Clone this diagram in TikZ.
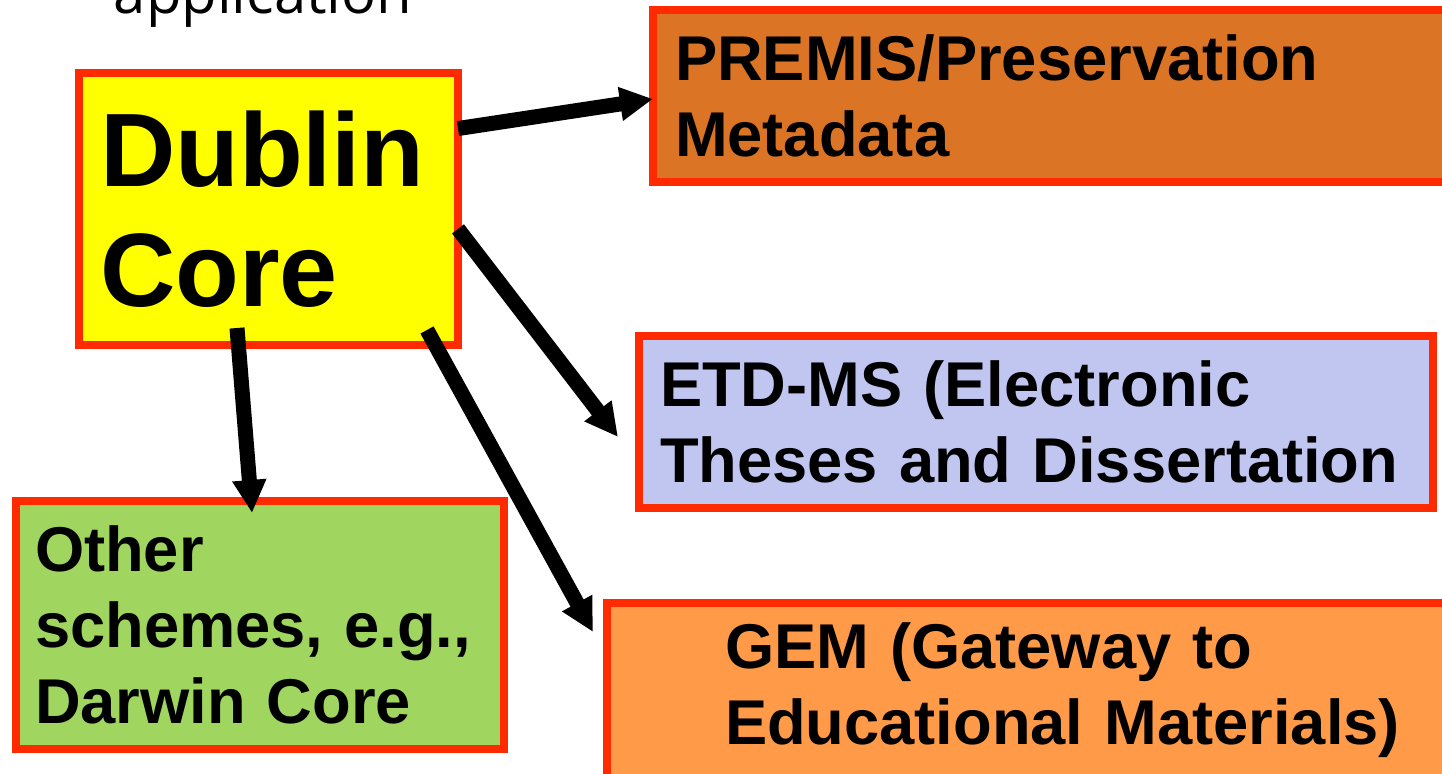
\documentclass[tikz,border=0pt]{standalone}
\usepackage{fontspec}
\setmainfont{Liberation Sans}
\newfontfamily\appfont{Open Sans}
\usepackage{tikz}
\usetikzlibrary{arrows.meta}
\usetikzlibrary{positioning}
\usepackage{xcolor}
\definecolor{boxred}{HTML}{FF2A00}
\definecolor{dcyellow}{HTML}{FFFF00}
\definecolor{premisorange}{HTML}{DC7425}
\definecolor{etdblue}{HTML}{C0C6F0}
\definecolor{othergreen}{HTML}{A0D660}
\definecolor{gemorange}{HTML}{FF9A48}

\begin{document}
\begin{tikzpicture}[x=1cm, y=-1cm,
		scheme/.style={rectangle, draw=boxred, line width=0.08cm, outer sep=0pt, anchor=north west,
			align=left, inner ysep=0pt, font=\bfseries\fontsize{18}{21.6}\selectfont},
		flow/.style={line width=0.15cm, -{Triangle[length=0.33cm, width=0.32cm]}}]
		\useasboundingbox (0,0) rectangle (14.42,7.74);

		\node[anchor=base, font=\appfont\fontsize{16.5}{20}\selectfont] (app) at (2.63,0.14) {application};

		\node[scheme, fill=dcyellow, font=\bfseries\fontsize{29.7}{34}\selectfont,
			text width=3.37cm, inner xsep=0.21cm, minimum height=2.72cm] (dc) at (0.79,0.73) {Dublin\\Core};
		\node[scheme, fill=premisorange, text width=7.63cm, inner xsep=0.22cm, minimum height=1.72cm]
			(premis) at (6.53,0.10) {PREMIS/Preservation\\Metadata};
		\node[scheme, fill=etdblue, text width=7.52cm, inner xsep=0.21cm, minimum height=1.72cm]
			(etd) at (6.39,3.36) {ETD-MS (Electronic\\Theses and Dissertation};
		\node[scheme, fill=othergreen, text width=4.50cm, inner xsep=0.19cm, minimum height=2.48cm]
			(other) at (0.16,5.01) {Other\\schemes, e.g.,\\Darwin Core};
		\node[scheme, fill=gemorange, text width=6.90cm, inner xsep=1.18cm, minimum height=1.75cm]
			(gem) at (6.07,6.03) {GEM (Gateway to\\Educational Materials)};

		\draw[flow] (dc.23) -- ([yshift=-0.03cm]premis.west);
		\draw[flow] (dc.-6) -- ([xshift=-0.21cm, yshift=-0.15cm]etd.west);
		\draw[flow] ([xshift=-0.315cm, yshift=0.17cm]dc.south) -- ([xshift=-0.08cm, yshift=-0.12cm]other.north);
		\draw[flow] ([xshift=-0.31cm, yshift=0.15cm]dc.south east) -- ([xshift=-0.14cm, yshift=-0.29cm]gem.north west);
	\end{tikzpicture}
\end{document}
